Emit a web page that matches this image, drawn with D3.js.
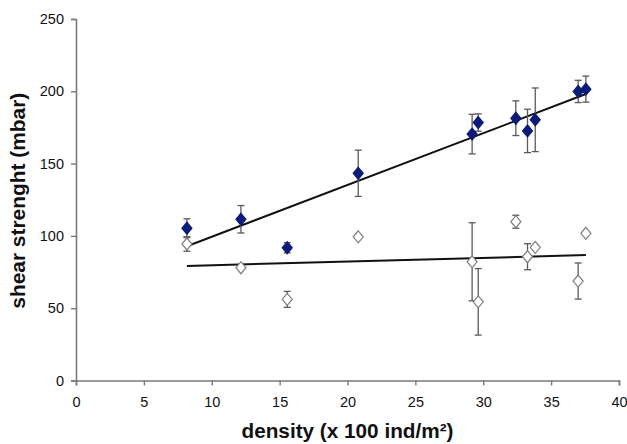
<!DOCTYPE html>
<html>
<head>
<meta charset="utf-8">
<script src="https://cdn.jsdelivr.net/npm/d3@7"></script>
<style>
  html, body { margin: 0; padding: 0; background: #ffffff; }
  svg { display: block; }
</style>
</head>
<body>
<svg id="chart" width="627" height="444"></svg>
<script>
// ---- data ----
const density        = [8.17, 12.15, 15.56, 20.79, 29.18, 29.63, 32.4, 33.26, 33.83, 36.99, 37.56];
const strengthFilled = [105.3, 111.5, 91.8, 143.3, 170.4, 178.4, 181.4, 172.6, 180.3, 199.9, 201.5];
const errorFilled    = [6.5, 9.5, 3.5, 16, 13.7, 6, 12, 15, 22, 7.7, 9];
const strengthOpen   = [94.4, 78, 56.1, 99.4, 82.1, 54.4, 109.8, 85.6, 92.1, 68.8, 101.8];
const errorOpen      = [5, 0, 5.5, 0, 27, 23, 4.5, 9, 0, 12.5, 0];
const xTicks = [0, 5, 10, 15, 20, 25, 30, 35, 40];
const yTicks = [0, 50, 100, 150, 200, 250];
const xTitle = "density (x 100 ind/m²)";
const yTitle = "shear strenght (mbar)";

// ---- layout ----
const svg = d3.select("#chart");
const x = d3.scaleLinear().domain([0, 40]).range([76, 619]);
const y = d3.scaleLinear().domain([0, 250]).range([380.5, 19]);
const axisColor = "#7a7a7a";
const font = "'Liberation Sans', Arial, sans-serif";

// axes
const xAxis = svg.append("g").attr("transform", `translate(0,${y(0)})`)
  .call(d3.axisBottom(x).tickValues(xTicks).tickSize(5).tickPadding(8).tickFormat(d3.format("d")));
const yAxis = svg.append("g").attr("transform", `translate(${x(0)},0)`)
  .call(d3.axisLeft(y).tickValues(yTicks).tickSize(5).tickPadding(7).tickFormat(d3.format("d")));
[xAxis, yAxis].forEach(g => {
  g.select(".domain").attr("stroke", axisColor).attr("stroke-width", 1.6);
  g.selectAll(".tick line").attr("stroke", axisColor).attr("stroke-width", 1.4);
  g.selectAll(".tick text").attr("fill", "#111").style("font-family", font).style("font-size", "14.5px");
});
xAxis.selectAll(".tick text").attr("dy", "0.95em");

// titles
svg.append("text").attr("x", (x(0) + x(40)) / 2).attr("y", 438)
  .attr("text-anchor", "middle").style("font-family", font).style("font-size", "19.5px")
  .style("font-weight", "bold").attr("fill", "#111")
  .attr("textLength", 212).attr("lengthAdjust", "spacingAndGlyphs").text(xTitle);
svg.append("text").attr("transform", `translate(25,${(y(0) + y(250)) / 2 + 1}) rotate(-90)`)
  .attr("text-anchor", "middle").style("font-family", font).style("font-size", "19.5px")
  .style("font-weight", "bold").attr("fill", "#111")
  .attr("textLength", 216).attr("lengthAdjust", "spacingAndGlyphs").text(yTitle);

// linear regression trend lines
function fit(xs, ys) {
  const mx = d3.mean(xs), my = d3.mean(ys);
  let sxy = 0, sxx = 0;
  xs.forEach((v, i) => { sxy += (v - mx) * (ys[i] - my); sxx += (v - mx) * (v - mx); });
  const b = sxy / sxx, a = my - b * mx;
  const x0 = d3.min(xs), x1 = d3.max(xs);
  return [[x0, a + b * x0], [x1, a + b * x1]];
}
const line = d3.line().x(d => x(d[0])).y(d => y(d[1]));
const series = [
  { ys: strengthOpen, err: errorOpen, fill: "#ffffff", stroke: "#7e7e7e" },
  { ys: strengthFilled, err: errorFilled, fill: "#0b1c78", stroke: "#0b1c78" }
];
series.forEach(s => {
  svg.append("path").attr("d", line(fit(density, s.ys)))
    .attr("fill", "none").attr("stroke", "#111").attr("stroke-width", 2);
});

// error bars
const errColor = "#5a5a5a";
series.forEach(s => {
  const g = svg.append("g").attr("stroke", errColor).attr("stroke-width", 1.3);
  density.forEach((dx, i) => {
    const e = s.err[i];
    if (!e) return;
    const cx = x(dx), t = y(s.ys[i] + e), b = y(s.ys[i] - e);
    g.append("line").attr("x1", cx).attr("x2", cx).attr("y1", t).attr("y2", b);
    g.append("line").attr("x1", cx - 3.5).attr("x2", cx + 3.5).attr("y1", t).attr("y2", t);
    g.append("line").attr("x1", cx - 3.5).attr("x2", cx + 3.5).attr("y1", b).attr("y2", b);
  });
});

// diamond markers
const diamond = "M0,-6 L5,0 L0,6 L-5,0 Z";
series.forEach(s => {
  svg.append("g").selectAll("path").data(density).join("path")
    .attr("transform", (d, i) => `translate(${x(d)},${y(s.ys[i])})`)
    .attr("d", diamond)
    .attr("fill", s.fill).attr("stroke", s.stroke).attr("stroke-width", 1.2);
});
</script>
</body>
</html>
